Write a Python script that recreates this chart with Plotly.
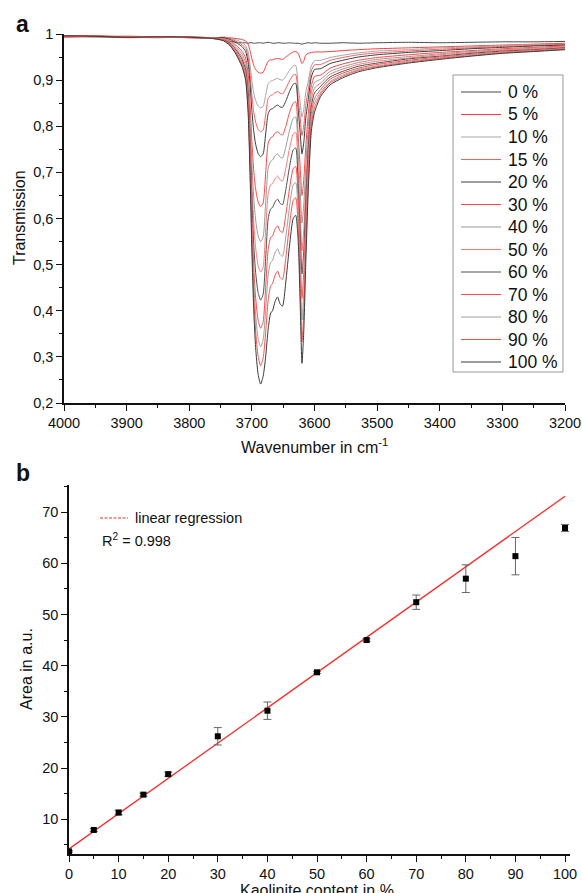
import plotly.graph_objects as go

FONT = "Liberation Sans, Arial, sans-serif"

# ---------------- Panel a: FTIR spectra ----------------
wavenumber = [4000, 3950, 3900, 3850, 3800, 3760, 3745, 3735, 3725, 3716,
              3710, 3706, 3703, 3700, 3697, 3694, 3690, 3686, 3682, 3678,
              3674, 3670, 3667, 3663, 3659, 3655, 3651, 3646, 3640, 3634,
              3630, 3626, 3623, 3620, 3617, 3614, 3610, 3605, 3600, 3590,
              3575, 3555, 3530, 3500, 3450, 3400, 3350, 3300, 3250, 3200]

t_0 = [0.996, 0.995, 0.994, 0.994, 0.993, 0.990, 0.987, 0.984, 0.982, 0.981,
       0.981, 0.980, 0.981, 0.981, 0.980, 0.980, 0.981, 0.981, 0.980, 0.981,
       0.982, 0.981, 0.980, 0.980, 0.981, 0.981, 0.980, 0.980, 0.981, 0.980,
       0.980, 0.980, 0.979, 0.978, 0.979, 0.980, 0.981, 0.980, 0.981, 0.980,
       0.980, 0.981, 0.980, 0.981, 0.982, 0.981, 0.982, 0.983, 0.983, 0.984]
t_5 = [0.993, 0.994, 0.992, 0.993, 0.993, 0.992, 0.993, 0.992, 0.990, 0.988,
       0.985, 0.978, 0.964, 0.946, 0.932, 0.923, 0.917, 0.915, 0.917, 0.929,
       0.941, 0.944, 0.944, 0.946, 0.947, 0.946, 0.945, 0.950, 0.956, 0.961,
       0.962, 0.958, 0.947, 0.936, 0.942, 0.954, 0.958, 0.960, 0.961, 0.961,
       0.962, 0.964, 0.966, 0.968, 0.970, 0.972, 0.974, 0.976, 0.978, 0.980]
t_10 = [0.996, 0.995, 0.993, 0.993, 0.994, 0.992, 0.993, 0.991, 0.987, 0.982,
        0.975, 0.961, 0.934, 0.899, 0.872, 0.856, 0.844, 0.840, 0.843, 0.867,
        0.892, 0.898, 0.899, 0.902, 0.904, 0.901, 0.900, 0.908, 0.921, 0.931,
        0.932, 0.885, 0.853, 0.820, 0.838, 0.873, 0.898, 0.931, 0.942, 0.943,
        0.949, 0.954, 0.959, 0.963, 0.966, 0.970, 0.972, 0.975, 0.977, 0.978]
t_15 = [0.994, 0.995, 0.995, 0.994, 0.992, 0.991, 0.992, 0.990, 0.984, 0.977,
        0.969, 0.950, 0.914, 0.867, 0.831, 0.809, 0.793, 0.788, 0.792, 0.825,
        0.860, 0.867, 0.868, 0.873, 0.875, 0.872, 0.870, 0.881, 0.898, 0.911,
        0.912, 0.860, 0.821, 0.780, 0.803, 0.845, 0.879, 0.920, 0.933, 0.934,
        0.943, 0.949, 0.955, 0.959, 0.963, 0.967, 0.970, 0.973, 0.975, 0.977]
t_20 = [0.996, 0.994, 0.994, 0.993, 0.993, 0.991, 0.992, 0.988, 0.981, 0.973,
        0.962, 0.938, 0.893, 0.834, 0.789, 0.761, 0.741, 0.734, 0.740, 0.783,
        0.827, 0.837, 0.838, 0.843, 0.846, 0.842, 0.841, 0.854, 0.875, 0.891,
        0.893, 0.835, 0.788, 0.740, 0.766, 0.817, 0.858, 0.907, 0.923, 0.925,
        0.936, 0.943, 0.950, 0.955, 0.960, 0.964, 0.968, 0.971, 0.974, 0.976]
t_30 = [0.995, 0.996, 0.993, 0.994, 0.992, 0.990, 0.990, 0.985, 0.975, 0.963,
        0.948, 0.914, 0.850, 0.767, 0.703, 0.664, 0.636, 0.626, 0.634, 0.698,
        0.763, 0.775, 0.777, 0.785, 0.788, 0.783, 0.781, 0.799, 0.829, 0.850,
        0.853, 0.778, 0.715, 0.650, 0.686, 0.754, 0.825, 0.888, 0.908, 0.911,
        0.926, 0.935, 0.943, 0.949, 0.955, 0.960, 0.964, 0.968, 0.971, 0.974]
t_40 = [0.996, 0.995, 0.994, 0.993, 0.993, 0.991, 0.989, 0.983, 0.971, 0.957,
        0.939, 0.898, 0.821, 0.721, 0.644, 0.597, 0.563, 0.550, 0.560, 0.633,
        0.709, 0.724, 0.727, 0.736, 0.740, 0.733, 0.731, 0.754, 0.790, 0.817,
        0.820, 0.741, 0.667, 0.590, 0.632, 0.712, 0.799, 0.873, 0.895, 0.902,
        0.919, 0.929, 0.938, 0.945, 0.951, 0.957, 0.962, 0.966, 0.969, 0.972]
t_50 = [0.995, 0.994, 0.995, 0.994, 0.992, 0.991, 0.988, 0.981, 0.968, 0.951,
        0.931, 0.883, 0.795, 0.680, 0.592, 0.537, 0.498, 0.484, 0.495, 0.573,
        0.654, 0.673, 0.676, 0.686, 0.692, 0.684, 0.681, 0.708, 0.751, 0.783,
        0.787, 0.703, 0.618, 0.530, 0.578, 0.670, 0.774, 0.858, 0.883, 0.894,
        0.913, 0.924, 0.934, 0.941, 0.948, 0.955, 0.960, 0.965, 0.968, 0.971]
t_60 = [0.996, 0.995, 0.993, 0.992, 0.993, 0.990, 0.987, 0.980, 0.965, 0.946,
        0.923, 0.870, 0.771, 0.642, 0.543, 0.483, 0.439, 0.423, 0.436, 0.514,
        0.599, 0.621, 0.624, 0.636, 0.642, 0.633, 0.630, 0.661, 0.711, 0.749,
        0.753, 0.672, 0.578, 0.480, 0.534, 0.636, 0.751, 0.844, 0.872, 0.887,
        0.907, 0.919, 0.930, 0.937, 0.946, 0.952, 0.958, 0.963, 0.966, 0.970]
t_70 = [0.995, 0.995, 0.994, 0.994, 0.993, 0.991, 0.987, 0.978, 0.961, 0.940,
        0.915, 0.856, 0.747, 0.604, 0.495, 0.428, 0.379, 0.362, 0.376, 0.450,
        0.533, 0.559, 0.562, 0.577, 0.584, 0.573, 0.570, 0.606, 0.664, 0.708,
        0.713, 0.639, 0.534, 0.427, 0.486, 0.599, 0.724, 0.828, 0.860, 0.880,
        0.902, 0.915, 0.926, 0.934, 0.943, 0.950, 0.956, 0.961, 0.965, 0.968]
t_80 = [0.996, 0.994, 0.995, 0.993, 0.992, 0.990, 0.986, 0.977, 0.959, 0.937,
        0.910, 0.848, 0.732, 0.580, 0.464, 0.392, 0.340, 0.322, 0.337, 0.401,
        0.477, 0.505, 0.509, 0.526, 0.534, 0.522, 0.518, 0.558, 0.624, 0.673,
        0.678, 0.609, 0.496, 0.380, 0.444, 0.566, 0.702, 0.815, 0.850, 0.874,
        0.897, 0.911, 0.923, 0.931, 0.941, 0.948, 0.955, 0.960, 0.964, 0.968]
t_90 = [0.995, 0.996, 0.994, 0.993, 0.994, 0.991, 0.986, 0.976, 0.957, 0.933,
        0.905, 0.839, 0.716, 0.555, 0.432, 0.356, 0.301, 0.281, 0.297, 0.353,
        0.423, 0.454, 0.459, 0.477, 0.486, 0.472, 0.468, 0.513, 0.585, 0.639,
        0.645, 0.579, 0.458, 0.333, 0.402, 0.533, 0.682, 0.803, 0.840, 0.870,
        0.894, 0.908, 0.921, 0.929, 0.939, 0.947, 0.953, 0.959, 0.963, 0.967]
t_100 = [0.996, 0.995, 0.993, 0.994, 0.993, 0.990, 0.985, 0.975, 0.955, 0.930,
         0.900, 0.830, 0.700, 0.530, 0.400, 0.320, 0.262, 0.241, 0.258, 0.300,
         0.360, 0.395, 0.400, 0.420, 0.430, 0.415, 0.410, 0.460, 0.540, 0.600,
         0.607, 0.550, 0.420, 0.286, 0.360, 0.500, 0.660, 0.790, 0.830, 0.865,
         0.890, 0.905, 0.918, 0.927, 0.937, 0.945, 0.952, 0.958, 0.962, 0.966]

spectrum_labels = ["0 %", "5 %", "10 %", "15 %", "20 %", "30 %", "40 %",
                   "50 %", "60 %", "70 %", "80 %", "90 %", "100 %"]
spectrum_values = [t_0, t_5, t_10, t_15, t_20, t_30, t_40,
                   t_50, t_60, t_70, t_80, t_90, t_100]
spectrum_colors = ["#4a4a4a", "#ff3c3c", "#a6a6a6", "#ff5c5c", "#3c3c3c",
                   "#ff4646", "#999999", "#ff7878", "#505050", "#ff4a4a",
                   "#a0a0a0", "#ff5050", "#3a3a3a"]

wn_ticks = [4000, 3900, 3800, 3700, 3600, 3500, 3400, 3300, 3200]
wn_ticktext = ["4000", "3900", "3800", "3700", "3600", "3500", "3400", "3300", "3200"]
tr_ticks = [0.2, 0.3, 0.4, 0.5, 0.6, 0.7, 0.8, 0.9, 1.0]
tr_ticktext = ["0,2", "0,3", "0,4", "0,5", "0,6", "0,7", "0,8", "0,9", "1"]

# ---------------- Panel b: calibration ----------------
kaolinite_content = [0, 5, 10, 15, 20, 30, 40, 50, 60, 70, 80, 90, 100]
area = [3.7, 7.9, 11.3, 14.8, 18.8, 26.2, 31.2, 38.7, 45.0, 52.4, 57.0, 61.4, 66.9]
area_err = [0.15, 0.3, 0.45, 0.3, 0.4, 1.7, 1.7, 0.2, 0.25, 1.4, 2.7, 3.65, 0.7]
fit_x = [0, 100]
fit_y = [4.2, 73.1]
content_ticks = [0, 10, 20, 30, 40, 50, 60, 70, 80, 90, 100]
area_ticks = [10, 20, 30, 40, 50, 60, 70]

fig = go.Figure()

for lab, vals, col in zip(spectrum_labels, spectrum_values, spectrum_colors):
    fig.add_trace(go.Scatter(
        x=wavenumber, y=vals, mode="lines", name=lab, showlegend=False,
        line=dict(color=col, width=1, shape="spline", smoothing=0.6),
        xaxis="x", yaxis="y"))

fig.add_trace(go.Scatter(
    x=fit_x, y=fit_y, mode="lines", showlegend=False,
    line=dict(color="#ff2b2b", width=1.3), xaxis="x2", yaxis="y2"))
fig.add_trace(go.Scatter(
    x=kaolinite_content, y=area, mode="markers", showlegend=False,
    marker=dict(symbol="square", size=6, color="black"),
    error_y=dict(type="data", array=area_err, color="#666666",
                 thickness=1, width=4),
    xaxis="x2", yaxis="y2"))

W, H = 582, 893


def px(x):
    return x / W


def py(y):
    return 1 - y / H


axis_common = dict(showline=True, linecolor="#111111", linewidth=1.6,
                   ticks="outside", ticklen=6, tickwidth=1.4, tickcolor="#111111",
                   showgrid=False, zeroline=False, mirror=False, automargin=False,
                   tickfont=dict(family=FONT, size=14.5, color="#111111"))

fig.update_layout(
    width=W, height=H,
    margin=dict(l=0, r=0, t=0, b=0, pad=0),
    paper_bgcolor="white", plot_bgcolor="white",
    font=dict(family=FONT, color="#111111"),
    showlegend=False,
    xaxis=dict(domain=[px(64), px(565)], range=[4000, 3200], anchor="y",
               tickmode="array", tickvals=wn_ticks, ticktext=wn_ticktext,
               minor=dict(ticks="outside", ticklen=3.5, tickwidth=1.2,
                          tickcolor="#111111", tickmode="linear", tick0=3200, dtick=50),
               **axis_common),
    yaxis=dict(domain=[py(403), py(34)], range=[0.2, 1.0], anchor="x",
               tickmode="array", tickvals=tr_ticks, ticktext=tr_ticktext,
               minor=dict(ticks="outside", ticklen=3.5, tickwidth=1.2,
                          tickcolor="#111111", tickmode="linear", tick0=0.2, dtick=0.05),
               **axis_common),
    xaxis2=dict(domain=[px(69), px(570)], range=[0, 101], anchor="y2",
                tickmode="array", tickvals=content_ticks,
                minor=dict(ticks="outside", ticklen=3.5, tickwidth=1.2,
                           tickcolor="#111111", tickmode="linear", tick0=0, dtick=5),
                **axis_common),
    yaxis2=dict(domain=[py(854), py(485)], range=[3.2, 75.3], anchor="x2",
                tickmode="array", tickvals=area_ticks,
                minor=dict(ticks="outside", ticklen=3.5, tickwidth=1.2,
                           tickcolor="#111111", tickmode="linear", tick0=0, dtick=5),
                **axis_common),
)

annotations = [
    dict(text="<b>a</b>", x=px(22), y=py(24), font=dict(size=23)),
    dict(text="<b>b</b>", x=px(23), y=py(473), font=dict(size=23)),
    dict(text="Transmission", x=px(19), y=py(218), textangle=-90, font=dict(size=16)),
    dict(text="Wavenumber in cm<sup>-1</sup>", x=px(314), y=py(446), font=dict(size=16)),
    dict(text="Area in a.u.", x=px(26), y=py(669), textangle=-90, font=dict(size=16)),
    dict(text="Kaolinite content in %", x=px(317), y=py(890), font=dict(size=16)),
    dict(text="linear regression", x=px(133), y=py(518), xanchor="left", font=dict(size=14.5)),
    dict(text="R<sup>2</sup> = 0.998", x=px(100), y=py(540), xanchor="left", font=dict(size=14.5)),
]

# legend of panel a (box, line samples and labels)
LEG_X0, LEG_X1, LEG_Y0, LEG_Y1 = 453, 563, 75, 372
LEG_FIRST, LEG_STEP = 92, 22.5
fig.add_shape(type="rect", xref="paper", yref="paper",
              x0=px(LEG_X0), x1=px(LEG_X1), y0=py(LEG_Y1), y1=py(LEG_Y0),
              line=dict(color="#999999", width=1), fillcolor="white", layer="above")
for i, (lab, col) in enumerate(zip(spectrum_labels, spectrum_colors)):
    yy = LEG_FIRST + i * LEG_STEP
    fig.add_shape(type="line", xref="paper", yref="paper",
                  x0=px(461), x1=px(501), y0=py(yy), y1=py(yy),
                  line=dict(color=col, width=1), layer="above")
    annotations.append(dict(text=lab, x=px(506), y=py(yy), xanchor="left",
                            font=dict(size=17.5)))

for a in annotations:
    a.setdefault("xanchor", "center")
    a.update(xref="paper", yref="paper", showarrow=False, yanchor="middle")
    a["font"] = dict(family=FONT, color="#111111", **a["font"])
    fig.add_annotation(**a)

fig.add_shape(type="line", xref="paper", yref="paper",
              x0=px(100), x1=px(128), y0=py(518), y1=py(518),
              line=dict(color="#ff2b2b", width=1.2, dash="3px,1.5px"))

fig.write_html("out.html",
               config={"displayModeBar": False},
               post_script="document.body.style.margin='0px';"
                           "document.body.style.overflow='hidden';")
